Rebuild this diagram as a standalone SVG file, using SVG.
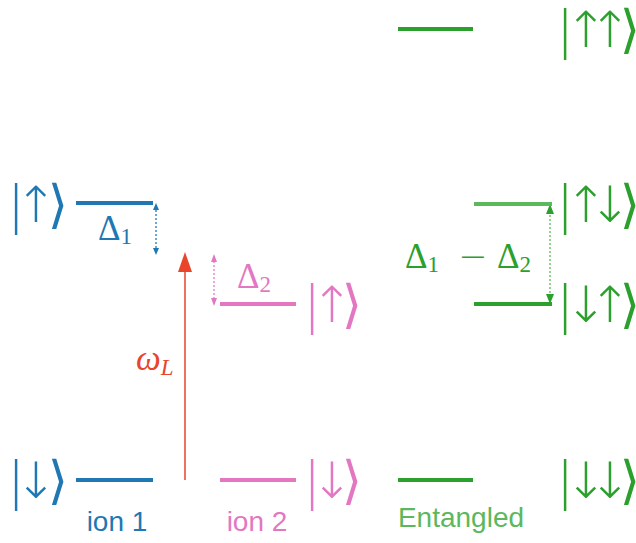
<svg xmlns="http://www.w3.org/2000/svg" width="636" height="543" viewBox="0 0 636 543">
<style>
.lv{stroke-width:4;fill:none}
.k{font-family:"DejaVu Sans",sans-serif;font-weight:200;font-size:52px;text-anchor:middle}
.a{font-size:50px}
.r{font-family:"DejaVu Serif",serif;font-weight:normal}
.m{font-family:"Liberation Serif","DejaVu Serif",serif;font-size:35px}
.s{font-size:23px}
.mn{font-family:"DejaVu Sans",sans-serif;font-weight:200}
.lab{font-family:"Liberation Sans",Arial,sans-serif;font-size:28px;text-anchor:middle}
.dot{stroke-width:1.3;stroke-dasharray:2,2;fill:none}
.blue{fill:#1f77b4}.pink{fill:#e377c2}.green{fill:#2ca02c}.lgreen{fill:#5cb85c}.red{fill:#e8452a}
</style>
<g id="connectors">
<line x1="185" y1="480" x2="185" y2="255" stroke="#e8452a" stroke-width="1.5"/>
<path d="M185,252 L178,272 L192,272z" fill="#e8452a"/>
<line class="dot" x1="156" y1="206" x2="156" y2="252" stroke="#1f77b4"/>
<path d="M153,210 L159,210 L156,203z M153,248 L159,248 L156,255z" fill="#1f77b4"/>
<line class="dot" x1="214" y1="257" x2="214" y2="302" stroke="#e377c2"/>
<path d="M211,262 L217,262 L214,254z M211,298 L217,298 L214,306z" fill="#e377c2"/>
<line class="dot" x1="550" y1="207" x2="550" y2="301" stroke="#5cb85c"/>
<path d="M546,214 L554,214 L550,204z M546,294 L554,294 L550,304z" fill="#2ca02c"/>
</g>
<g id="ion1">
<line class="lv" x1="76" y1="203" x2="153" y2="203" stroke="#1f77b4"/>
<line class="lv" x1="76" y1="480" x2="153" y2="480" stroke="#1f77b4"/>
<text class="k blue" y="222"><tspan x="16">|</tspan><tspan class="a" x="36">↑</tspan><tspan class="r" x="58">⟩</tspan></text>
<text class="k blue" y="498"><tspan x="16">|</tspan><tspan class="a" x="36">↓</tspan><tspan class="r" x="58">⟩</tspan></text>
<text class="m blue" x="98" y="240">Δ<tspan class="s" dy="4">1</tspan></text>
<text class="lab blue" x="117" y="531">ion 1</text>
</g>
<g id="ion2">
<line class="lv" x1="220" y1="304" x2="296" y2="304" stroke="#e377c2"/>
<line class="lv" x1="220" y1="480" x2="296" y2="480" stroke="#e377c2"/>
<text class="k pink" y="322"><tspan x="312">|</tspan><tspan class="a" x="332">↑</tspan><tspan class="r" x="352">⟩</tspan></text>
<text class="k pink" y="498"><tspan x="312">|</tspan><tspan class="a" x="332">↓</tspan><tspan class="r" x="352">⟩</tspan></text>
<text class="m pink" x="237" y="288">Δ<tspan class="s" dy="4">2</tspan></text>
<text class="lab pink" x="257" y="531">ion 2</text>
</g>
<g id="laser">
<text class="m red" x="136" y="370" font-style="italic">ω<tspan class="s" dy="5">L</tspan></text>
</g>
<g id="entangled">
<line class="lv" x1="398" y1="29" x2="473" y2="29" stroke="#2ca02c"/>
<line class="lv" x1="474" y1="204" x2="552" y2="204" stroke="#5cb85c"/>
<line class="lv" x1="474" y1="304" x2="552" y2="304" stroke="#2ca02c"/>
<line class="lv" x1="398" y1="480" x2="473" y2="480" stroke="#2ca02c"/>
<text class="k green" y="47"><tspan x="565">|</tspan><tspan class="a" x="586">↑</tspan><tspan class="a" x="610">↑</tspan><tspan class="r" x="630">⟩</tspan></text>
<text class="k green" y="222"><tspan x="565">|</tspan><tspan class="a" x="586">↑</tspan><tspan class="a" x="610">↓</tspan><tspan class="r" x="630">⟩</tspan></text>
<text class="k green" y="322"><tspan x="565">|</tspan><tspan class="a" x="586">↓</tspan><tspan class="a" x="610">↑</tspan><tspan class="r" x="630">⟩</tspan></text>
<text class="k green" y="498"><tspan x="565">|</tspan><tspan class="a" x="586">↓</tspan><tspan class="a" x="610">↓</tspan><tspan class="r" x="630">⟩</tspan></text>
<text class="m green" y="268"><tspan x="405">Δ</tspan><tspan class="s" dy="4">1</tspan><tspan class="mn" x="458" dy="-4">−</tspan><tspan x="497">Δ</tspan><tspan class="s" dy="4">2</tspan></text>
<text class="lab lgreen" x="461" y="527">Entangled</text>
</g>
</svg>
